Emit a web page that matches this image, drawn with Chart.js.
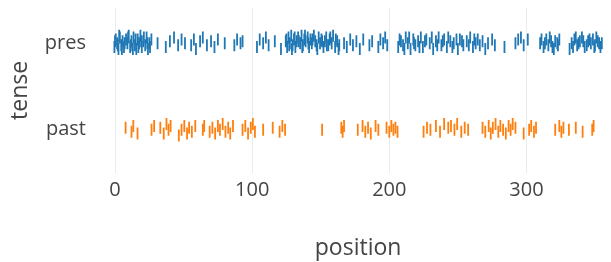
<!DOCTYPE html>
<html>
<head>
<meta charset="utf-8">
<script src="https://cdn.jsdelivr.net/npm/chart.js@4/dist/chart.umd.min.js"></script>
<style>
  html, body { margin: 0; padding: 0; background: #fff; }
  #wrap { width: 611px; height: 262px; }
</style>
</head>
<body>
<div id="wrap"><canvas id="myChart" width="611" height="262"></canvas></div>
<script>
// categories on the y axis (value -> label)
const categories = ['past', 'pres']

// [position, jitter level 0..8]
const presPoints = [
    [-0.5,2],[0,5],[0.5,6],[1.5,4],[2,3],[2.5,1],[3,8],[3.5,7],[4.5,3],[5,1],[5.5,5],[6.5,2],[7,4],[8,6],[9,4],[9.5,7],[10,8],[11,2],[11.5,3],[12,5],[13,1],[13.5,7],[14.5,3],[15,6],[15.5,1],[16.5,6],[17,2],[17.5,4],[18.5,8],[19,5],[19.5,2],[20.5,5],[21,7],[22,3],[23,7],[23.5,4],[24,1],[25,4],[25.5,2],[26.5,6],
    [31,4],
    [37,2],[40,5],[43,7],[46,3],[48.5,6],[51,4],
    [55.5,3],[57.5,6],[59,1],[62,5],[64,7],[67,3],[70,5],[72.5,2],[75,6],
    [80,4],
    [87,3],[89,6],[91.5,4],[93,5],
    [103.5,2],[105.5,6],[108,4],[110,7],[112,3],[116.5,5],[121,1],
    [124.5,5],[125,6],[125.5,2],[126.5,7],[127,3],[127.5,4],[128.5,8],[129,1],[129.5,3],[130.5,6],[131,7],[131.5,2],[132.5,5],[133.5,7],[134,5],[135,4],[136,8],[136.5,2],[137,3],[138,6],[138.5,8],[139,5],[140.5,7],[141,4],[141.5,2],[142.5,6],[143.5,4],[144,6],[145,8],[146,5],[147,3],[147.5,1],[148.5,7],[149.5,4],[150.5,6],[151,5],[152,2],[153,5],[154,7],[154.5,3],[155.5,3],[156.5,6],[157,7],[158,4],[159,8],[160.5,2],[161,6],[162,5],[163,1],[163.5,3],
    [167,4],[169,2],[171.5,6],[173.5,3],[176,5],[178.5,1],[181,6],[185.5,3],[187.5,5],[192,2],[193.5,6],[195.5,4],[197,7],[198.5,3],
    [206.5,2],[207.5,6],[208.5,5],[210,3],[211,1],[212,7],[213.5,4],[214.5,7],[215.5,1],[217.5,6],[218,4],[219,3],[221,5],[222,2],[223,7],[224.5,2],[226,5],[227,6],[229.5,4],[231,7],[232,1],[234,5],[235,3],[236,7],[238,3],[239,5],[240,6],[242,2],[243,7],[244.5,5],[246,2],[247,4],[249,6],[250,1],[251.5,6],[253,5],[254,3],[256.5,5],[258,3],[259,7],[261,2],[262,6],[263,4],
    [264.5,6],[266,3],[268,5],[270,1],[272,4],[275,6],[277,3],[284,2],
    [292,4],[294,6],[296,7],[298,3],[301,6],
    [310,4],[311,6],[312.5,2],[313.5,4],[314.5,6],[316,3],[317,7],[318,5],[319,2],[320,1],[321,5],[322.5,4],[323,3],[324,6],[331.5,1],[333,4],[334,2],[335,6],[336,7],[337,3],[338,4],[339,5],[340.5,7],[341.5,5],[342.5,2],[344,3],[345,5],[346,6],[347,4],[348.5,6],[349.5,2],[350,3],[351,7],[352,5],[353,4],[354,2],[355,4]
]

const pastPoints = [
    [7.7,5],[12,3],[13.3,6],[16.4,2],[26.6,4],[28.5,6],
    [33,5],[35.5,2],[37.5,7],[39,4],[40.5,6],
    [46.5,1],[48.5,4],[50.5,6],[52.5,2],[54,5],[56,3],[58.5,6],
    [64,4],[65,6],
    [69,3],[71,5],[73,2],[75,6],[76.5,4],[78.5,7],[80.5,3],[82.5,5],[84,2],[86,6],
    [93,4],[95,6],[97,2],[99,5],[100.5,7],[102,3],
    [108,4],[115,5],[120,3],[122,6],[124,4],
    [151,4],
    [165,5],[166,3],[167,6],
    [177,4],[180.5,6],[182.5,3],[184.5,5],[186.5,2],[190,6],[192,4],
    [198,5],[200,3],[201.5,6],[203,4],[204.5,5],[206,3],
    [225,3],[227.5,5],[230,4],[234,6],[237,3],[240,7],[243,5],[245,6],[247.5,4],[249.5,7],[252.5,3],[255,5],[257.5,4],
    [268,5],[270,3],[272.5,6],[274,2],[275.5,5],[277.5,7],[279.5,3],[281,6],[283,4],[285,2],[287,6],[288.5,4],[290,7],[292,5],
    [298,2],[302,4],[303.5,6],[305.5,3],[307,5],
    [321,4],[324,6],[325.5,3],[327,5],[331,4],[336,5],[341,3],[348,4],[349,6]
]

const xTicks = [0, 100, 200, 300]

const blue = '#1f77b4'
const orange = '#ff7f0e'

function toXY(points, cat) {
    return points.map(p => ({ x: p[0], y: cat + (p[1] - 4) * 0.022 }))
}

const ctx = document.getElementById('myChart').getContext('2d')
const myChart = new Chart(ctx, {
    type: 'scatter',
    data: {
        datasets: [{
            label: 'pres',
            data: toXY(presPoints, 1),
            borderColor: blue,
            backgroundColor: blue,
            pointStyle: 'line',
            rotation: 90,
            pointRadius: 6,
            borderWidth: 1.8,
        }, {
            label: 'past',
            data: toXY(pastPoints, 0),
            borderColor: orange,
            backgroundColor: orange,
            pointStyle: 'line',
            rotation: 90,
            pointRadius: 6,
            borderWidth: 1.8,
        }]
    },
    options: {
        responsive: false,
        animation: false,
        events: [],
        layout: { padding: { top: 0, right: 6, left: 0, bottom: 0 } },
        plugins: { legend: { display: false }, tooltip: { enabled: false } },
        scales: {
            x: {
                type: 'linear',
                min: -1.5,
                max: 356,
                afterBuildTicks: (scale) => { scale.ticks = xTicks.map(v => ({ value: v })) },
                afterFit: (scale) => { scale.height = 89 },
                grid: { color: '#ebebeb', lineWidth: 1, drawTicks: false },
                border: { display: false },
                ticks: { color: '#444', padding: 5, font: { family: 'Open Sans', size: 20 } },
                title: { display: true, text: 'position', color: '#444', font: { family: 'Open Sans', size: 23 }, padding: { top: 0, bottom: 0 } }
            },
            y: {
                type: 'linear',
                min: -0.5,
                max: 1.41,
                afterBuildTicks: (scale) => { scale.ticks = categories.map((c, i) => ({ value: i })) },
                afterFit: (scale) => {
                    // tick padding would otherwise push the plot area down
                    scale.width = 113
                    scale.paddingTop = 0
                    scale.paddingBottom = 0
                },
                grid: { display: false },
                border: { display: false },
                ticks: {
                    color: '#444', padding: 19, font: { family: 'Open Sans', size: 20 },
                    callback: (v) => categories[v]
                },
                title: { display: true, text: 'tense', color: '#444', font: { family: 'Open Sans', size: 23 }, padding: { top: 7, bottom: 0 } }
            }
        }
    }
})
</script>
</body>
</html>
